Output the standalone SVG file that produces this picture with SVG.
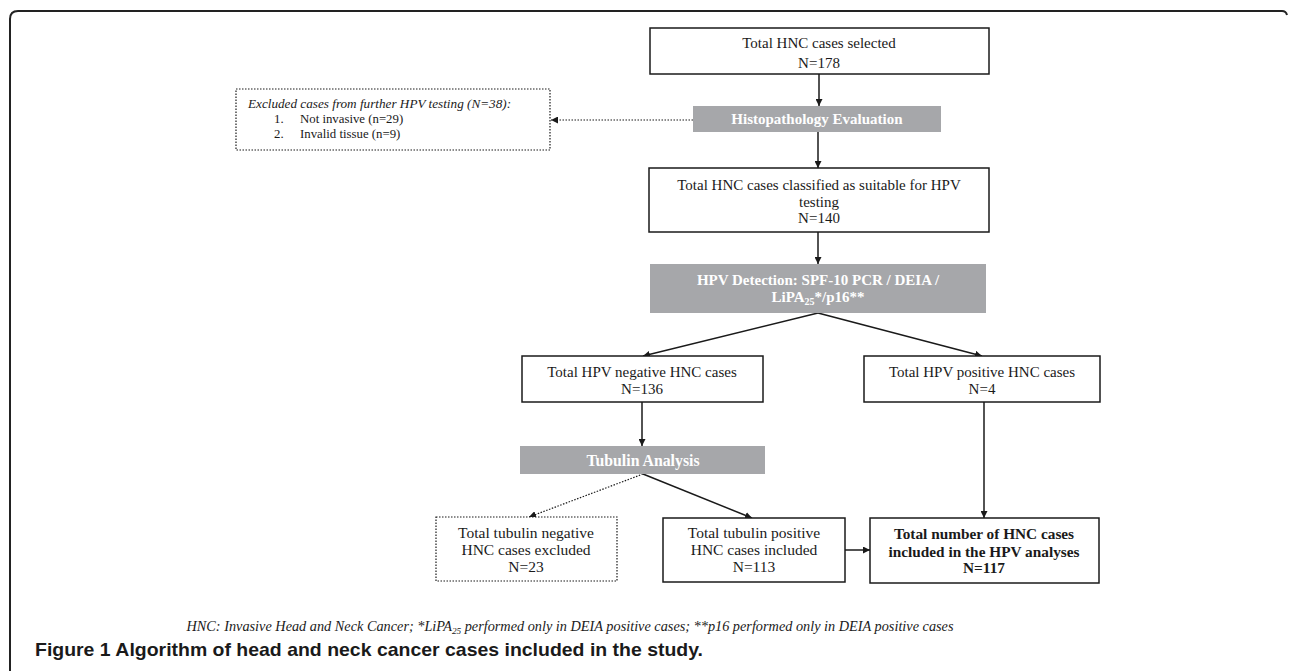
<svg xmlns="http://www.w3.org/2000/svg" width="1290" height="671" viewBox="0 0 1290 671">
<defs>
<marker id="ah" viewBox="0 0 10 10" refX="10" refY="5" markerWidth="7" markerHeight="7" orient="auto" markerUnits="userSpaceOnUse"><path d="M0,0 L10,5 L0,10 z" fill="#1a1a1a"/></marker>
<style>
.box{fill:#fff;stroke:#1a1a1a;stroke-width:1.5}
.dbox{fill:#fff;stroke:#1a1a1a;stroke-width:1.2;stroke-dasharray:1.5 1.5}
.gray{fill:#a6a7aa}
.t{font-family:"Liberation Serif",serif;font-size:15px;fill:#1a1a1a;text-anchor:middle}
.t2{font-family:"Liberation Serif",serif;font-size:15.5px;fill:#1a1a1a;text-anchor:middle}
.tb{font-family:"Liberation Serif",serif;font-size:15.3px;font-weight:bold;fill:#1a1a1a;text-anchor:middle}
.tw{font-family:"Liberation Serif",serif;font-size:15px;font-weight:bold;fill:#fff;text-anchor:middle}
.ti{font-family:"Liberation Serif",serif;font-size:13.2px;font-style:italic;fill:#1a1a1a}
.tl{font-family:"Liberation Serif",serif;font-size:12.8px;fill:#1a1a1a}
.c{fill:none;stroke:#1a1a1a;stroke-width:1.5}
.cd{fill:none;stroke:#1a1a1a;stroke-width:1.2;stroke-dasharray:1.5 1.5}
</style>
</defs>
<rect width="1290" height="671" fill="#fff"/>
<path d="M10,671 V19 Q10,11 18,11 H1282 Q1286,11 1287,15" fill="none" stroke="#222" stroke-width="2"/>

<g id="connectors">
<line class="c" x1="819" y1="74" x2="819" y2="106" marker-end="url(#ah)"/>
<line class="cd" x1="693" y1="120" x2="551" y2="120" marker-end="url(#ah)"/>
<line class="c" x1="818" y1="132" x2="818" y2="168" marker-end="url(#ah)"/>
<line class="c" x1="818" y1="232" x2="818" y2="264" marker-end="url(#ah)"/>
<line class="c" x1="818" y1="313" x2="643" y2="356" marker-end="url(#ah)"/>
<line class="c" x1="818" y1="313" x2="982" y2="356" marker-end="url(#ah)"/>
<line class="c" x1="642" y1="402" x2="642" y2="446" marker-end="url(#ah)"/>
<line class="c" x1="984" y1="402" x2="984" y2="518" marker-end="url(#ah)"/>
<line class="cd" x1="643" y1="474" x2="529" y2="517" marker-end="url(#ah)"/>
<line class="c" x1="643" y1="474" x2="752" y2="518" marker-end="url(#ah)"/>
<line class="c" x1="845" y1="550" x2="870" y2="550" marker-end="url(#ah)"/>
</g>

<g id="n-selected">
<rect class="box" x="650" y="28" width="339" height="46"/>
<text class="t" x="819" y="48">Total HNC cases selected</text>
<text class="t" x="819" y="68">N=178</text>
</g>

<g id="n-histo">
<rect class="gray" x="693" y="106" width="248" height="26"/>
<text class="tw" x="817" y="124">Histopathology Evaluation</text>
</g>

<g id="n-excluded">
<rect class="dbox" x="236" y="89" width="314" height="61"/>
<text class="ti" x="248" y="108">Excluded cases from further HPV testing (N=38):</text>
<text class="tl" x="274" y="123">1.</text>
<text class="tl" x="300" y="123">Not invasive (n=29)</text>
<text class="tl" x="274" y="138">2.</text>
<text class="tl" x="300" y="138">Invalid tissue (n=9)</text>
</g>

<g id="n-suitable">
<rect class="box" x="649" y="168" width="340" height="64"/>
<text class="t" x="819" y="190">Total HNC cases classified as suitable for HPV</text>
<text class="t" x="819" y="207">testing</text>
<text class="t" x="819" y="223">N=140</text>
</g>

<g id="n-detection">
<rect class="gray" x="650" y="264" width="336" height="49"/>
<text class="tw" x="818" y="285">HPV Detection: SPF-10 PCR / DEIA /</text>
<text class="tw" x="818" y="302">LiPA<tspan font-size="10" dy="3">25</tspan><tspan dy="-3">*/p16**</tspan></text>
</g>

<g id="n-hpvneg">
<rect class="box" x="522" y="356" width="241" height="46"/>
<text class="t" x="642" y="377">Total HPV negative HNC cases</text>
<text class="t" x="642" y="394">N=136</text>
</g>

<g id="n-hpvpos">
<rect class="box" x="864" y="356" width="236" height="46"/>
<text class="t" x="982" y="377">Total HPV positive HNC cases</text>
<text class="t" x="982" y="394">N=4</text>
</g>

<g id="n-tubulin">
<rect class="gray" x="520" y="446" width="245" height="28"/>
<text class="tw" x="643" y="466" style="font-size:15.8px">Tubulin Analysis</text>
</g>

<g id="n-tubneg">
<rect class="dbox" x="436" y="517" width="181" height="64"/>
<text class="t2" x="526" y="538">Total tubulin negative</text>
<text class="t2" x="526" y="555">HNC cases excluded</text>
<text class="t2" x="526" y="572">N=23</text>
</g>

<g id="n-tubpos">
<rect class="box" x="663" y="518" width="182" height="64"/>
<text class="t2" x="754" y="538">Total tubulin positive</text>
<text class="t2" x="754" y="555">HNC cases included</text>
<text class="t2" x="754" y="572">N=113</text>
</g>

<g id="n-final">
<rect class="box" x="870" y="518" width="229" height="65"/>
<text class="tb" x="984" y="539">Total number of HNC cases</text>
<text class="tb" x="984" y="557">included in the HPV analyses</text>
<text class="tb" x="984" y="573">N=117</text>
</g>

<text x="570" y="631" font-family="'Liberation Serif',serif" font-size="14" font-style="italic" fill="#1a1a1a" text-anchor="middle" textLength="767" lengthAdjust="spacingAndGlyphs">HNC: Invasive Head and Neck Cancer; *LiPA<tspan font-size="9" dy="3">25</tspan><tspan dy="-3"> performed only in DEIA positive cases; **p16 performed only in DEIA positive cases</tspan></text>
<text x="35" y="656" font-family="'Liberation Sans',sans-serif" font-size="19" font-weight="bold" fill="#1a1a1a" textLength="668" lengthAdjust="spacingAndGlyphs">Figure 1 Algorithm of head and neck cancer cases included in the study.</text>
</svg>
